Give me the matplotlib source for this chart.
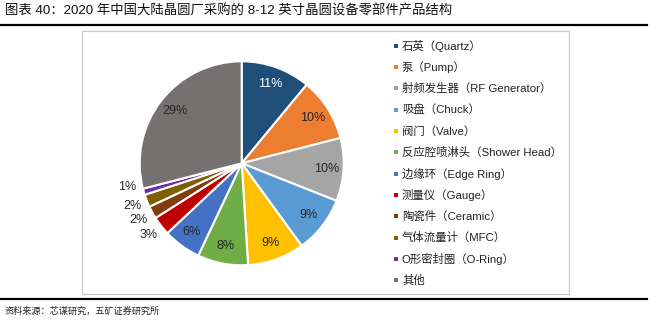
import numpy as np
import matplotlib
matplotlib.use("Agg")
import matplotlib.pyplot as plt
from matplotlib.patches import Rectangle
from matplotlib.lines import Line2D

plt.rcParams['font.family'] = ['Liberation Sans', 'Noto Sans CJK SC']

TITLE = "图表 40：2020 年中国大陆晶圆厂采购的 8-12 英寸晶圆设备零部件产品结构"
SOURCE = "资料来源：芯谋研究，五矿证券研究所"

parts = ["石英（Quartz）", "泵（Pump）", "射频发生器（RF Generator）", "吸盘（Chuck）",
         "阀门（Valve）", "反应腔喷淋头（Shower Head）", "边缘环（Edge Ring）",
         "测量仪（Gauge）", "陶瓷件（Ceramic）", "气体流量计（MFC）",
         "O形密封圈（O-Ring）", "其他"]
shares = [11, 10, 10, 9, 9, 8, 6, 3, 2, 2, 1, 29]
colors = ["#1F4E79", "#ED7D31", "#A5A5A5", "#5B9BD5", "#FFC000", "#70AD47",
          "#4472C4", "#C00000", "#843C0C", "#7F6000", "#7030A0", "#767171"]
outside = [False] * 7 + [True] * 4 + [False]

W, H = 659, 329
fig = plt.figure(figsize=(W / 100, H / 100), dpi=100)

# page furniture: title, rules, frame, source
fig.text(5 / W, 1 - 11 / H, TITLE, fontsize=9.6, va='center', ha='left', color='#111111')
fig.add_artist(Line2D([0, 647 / W], [1 - 25 / H] * 2, color='black', lw=1.6))
fig.add_artist(Line2D([0, 647 / W], [1 - 298.5 / H] * 2, color='black', lw=1.6))
fig.add_artist(Rectangle((82 / W, 1 - 294 / H), (569 - 82) / W, (294 - 31) / H,
                         fill=False, ec='#C8C8C8', lw=0.9))
fig.text(5 / W, 1 - 311 / H, SOURCE, fontsize=6.6, va='center', ha='left', color='#222222')

# pie
cx, cy, r = 241.7, 163.3, 102
ax = fig.add_axes([(cx - r) / W, (H - cy - r) / H, 2 * r / W, 2 * r / H])
wedges, _ = ax.pie(shares, colors=colors, startangle=90, counterclock=False,
                   radius=1, wedgeprops=dict(edgecolor='white', linewidth=1.5))
ax.set_xlim(-1, 1)
ax.set_ylim(-1, 1)
ax.set_aspect('equal')
ax.axis('off')

total = sum(shares)
cum = 0
for i, v in enumerate(shares):
    mid = (cum + v / 2) / total
    cum += v
    ang = np.deg2rad(90 - 360 * mid)
    if outside[i]:
        # small slices: label outside, the tiniest one nudged up to clear its neighbour
        d = 1.15
        if v == 1:
            ang -= np.deg2rad(4.5)
    else:
        d = 0.83
    tc = 'white' if i == 0 else '#262626'
    ax.text(d * np.cos(ang), d * np.sin(ang), f"{v}%", ha='center', va='center',
            fontsize=9, color=tc, clip_on=False)

# legend
for i, (name, c) in enumerate(zip(parts, colors)):
    y = 1 - (45.7 + i * 21.33) / H
    fig.add_artist(Rectangle((394 / W, y - 2 / H), 4 / W, 4 / H, color=c, lw=0))
    fig.text(402 / W, y, name, fontsize=8.2, va='center', ha='left', color='#222222')

fig.savefig("out.png", dpi=100)
